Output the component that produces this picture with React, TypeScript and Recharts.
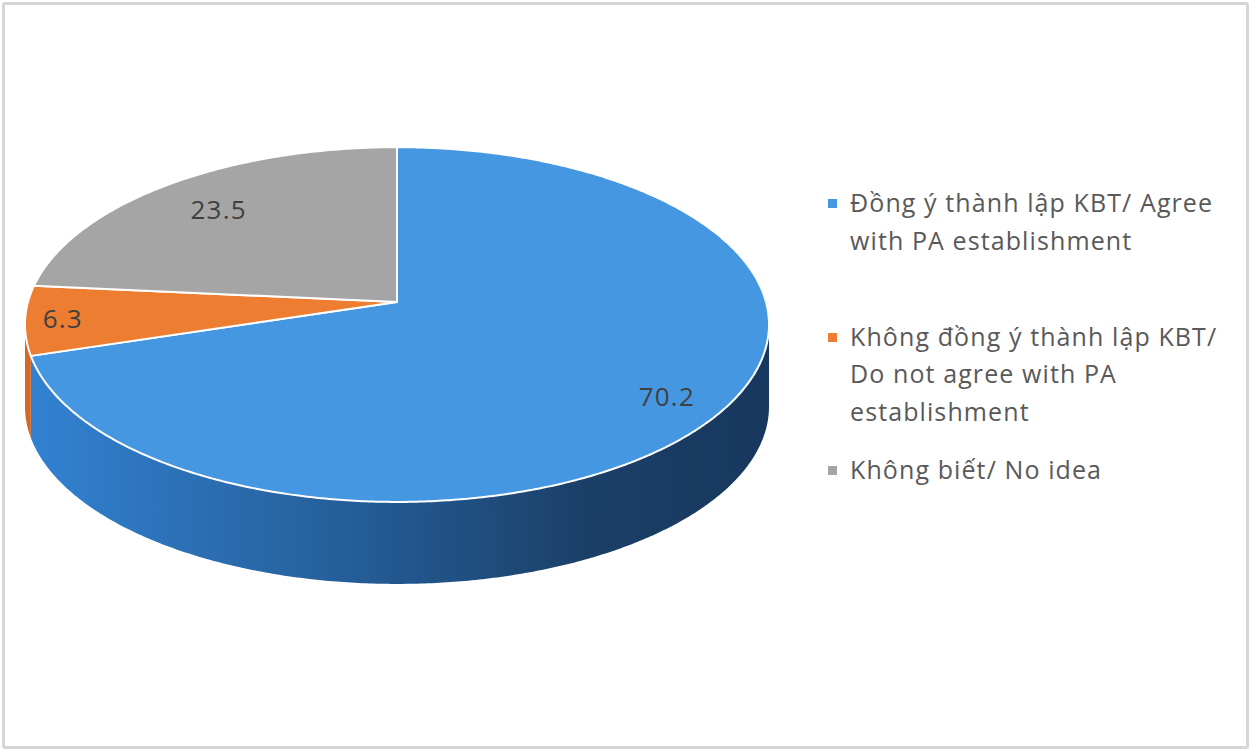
import { Cell, Legend, Pie, PieChart } from "recharts";

const categories = [
    "Đồng ý thành lập KBT/ Agree with PA establishment",
    "Không đồng ý thành lập KBT/ Do not agree with PA establishment",
    "Không biết/ No idea",
];
const values = [70.2, 6.3, 23.5];

const topColors = ["#4597E1", "#ED7D31", "#A5A5A5"];
const sideColors = ["url(#blueSide)", "#D06A26", "#8C8C8C"];
const labelRadius = [0.85, 0.9, 0.77];

const data = categories.map((name, i) => ({ name, value: values[i] }));

// fake 3D: tilted circle with a bit of perspective, then a side wall
const TILT = 0.473;
const PERSP = 0.127;
const DEPTH = 82;
const VIS = (Math.asin(PERSP) * 180) / Math.PI;
const FONT = "'Open Sans', 'Noto Sans', sans-serif";

function project(cx: number, cy: number, r: number, deg: number, f = 1): [number, number] {
    const a = (deg * Math.PI) / 180;
    const u = Math.cos(a) * f;
    const v = -Math.sin(a) * f;
    const d = 1 - PERSP * v;
    return [cx + (r * u) / d, cy + (r * TILT * v) / d];
}

function arc(cx: number, cy: number, r: number, a1: number, a2: number) {
    const n = Math.max(2, Math.ceil(Math.abs(a2 - a1) / 0.5));
    const pts: Array<[number, number]> = [];
    for (let i = 0; i <= n; i++) {
        pts.push(project(cx, cy, r, a1 + ((a2 - a1) * i) / n));
    }
    return pts;
}

const fmt = (p: [number, number]) => `${p[0].toFixed(2)},${p[1].toFixed(2)}`;

function TopShape(props: any) {
    const { cx, cy, outerRadius, startAngle, endAngle, fill } = props;
    const pts = arc(cx, cy, outerRadius, startAngle, endAngle);
    const d = `M${cx},${cy}L${pts.map(fmt).join("L")}Z`;
    return <path d={d} fill={fill} stroke="#ffffff" strokeWidth={2} strokeLinejoin="round" />;
}

function SideShape(props: any) {
    const { cx, cy, outerRadius, startAngle, endAngle, fill } = props;
    const lo = Math.min(startAngle, endAngle);
    const hi = Math.max(startAngle, endAngle);
    const paths: string[] = [];
    for (const shift of [-360, 0, 360]) {
        const a1 = Math.max(lo, -180 + VIS + shift);
        const a2 = Math.min(hi, -VIS + shift);
        if (a2 - a1 <= 0.01) continue;
        const top = arc(cx, cy, outerRadius, a1, a2);
        const bottom = top.map(([x, y]) => [x, y + DEPTH] as [number, number]).reverse();
        paths.push(`M${top.map(fmt).join("L")}L${bottom.map(fmt).join("L")}Z`);
    }
    if (!paths.length) return <g />;
    return <path d={paths.join("")} fill={fill} stroke="none" />;
}

function renderLabel(props: any) {
    const { cx, cy, outerRadius, midAngle, index, value } = props;
    const [x, y] = project(cx, cy, outerRadius, midAngle, labelRadius[index]);
    return (
        <text
            x={x}
            y={y}
            textAnchor="middle"
            dominantBaseline="central"
            fill="#404040"
            fontSize={26}
            letterSpacing={1.2}
            fontFamily={FONT}
        >
            {value}
        </text>
    );
}

function renderLegend(props: any) {
    const payload = props.payload ?? [];
    // side pie also lands in the payload, keep only the top faces, in category order
    const items = categories
        .map((name) => payload.find((p: any) => p.value === name && p.type !== "none"))
        .filter(Boolean);
    return (
        <div style={{ fontFamily: FONT }}>
            {items.map((entry: any, i: number) => (
                <div key={i} style={{ display: "flex", alignItems: "flex-start", height: 133.5 }}>
                    <div
                        style={{
                            width: 9,
                            height: 9,
                            marginTop: 15,
                            marginRight: 13,
                            background: topColors[categories.indexOf(entry.value)],
                            flex: "none",
                        }}
                    />
                    <div
                        style={{
                            width: 385,
                            fontSize: 25,
                            lineHeight: "37.5px",
                            letterSpacing: 1.1,
                            color: "#595959",
                        }}
                    >
                        {entry.value}
                    </div>
                </div>
            ))}
        </div>
    );
}

export default function App() {
    return (
        <div style={{ position: "absolute", left: 0, top: 0, width: 1251, height: 751, background: "#fff" }}>
            <div
                style={{
                    position: "absolute",
                    left: 2,
                    top: 2,
                    width: 1247,
                    height: 747,
                    boxSizing: "border-box",
                    border: "3px solid #d6d6d6",
                    borderRadius: 3,
                }}
            />
            <div style={{ position: "absolute", left: 0, top: 0 }}>
                <PieChart width={1251} height={751} margin={{ top: 0, right: 0, bottom: 0, left: 0 }}>
                    <defs>
                        <linearGradient id="blueSide" gradientUnits="userSpaceOnUse" x1={30} y1={0} x2={770} y2={0}>
                            <stop offset="0" stopColor="#3282D2" />
                            <stop offset="0.45" stopColor="#245C96" />
                            <stop offset="0.75" stopColor="#1B4068" />
                            <stop offset="1" stopColor="#17375E" />
                        </linearGradient>
                    </defs>
                    <Pie
                        data={data}
                        dataKey="value"
                        nameKey="name"
                        cx={397}
                        cy={302}
                        outerRadius={369}
                        startAngle={90}
                        endAngle={-270}
                        stroke="none"
                        legendType="none"
                        isAnimationActive={false}
                        shape={SideShape}
                        activeShape={SideShape}
                        inactiveShape={SideShape}
                    >
                        {data.map((_, i) => (
                            <Cell key={i} fill={sideColors[i]} />
                        ))}
                    </Pie>
                    <Pie
                        data={data}
                        dataKey="value"
                        nameKey="name"
                        cx={397}
                        cy={302}
                        outerRadius={369}
                        startAngle={90}
                        endAngle={-270}
                        stroke="#ffffff"
                        isAnimationActive={false}
                        shape={TopShape}
                        activeShape={TopShape}
                        inactiveShape={TopShape}
                        label={renderLabel}
                        labelLine={false}
                    >
                        {data.map((_, i) => (
                            <Cell key={i} fill={topColors[i]} />
                        ))}
                    </Pie>
                    <Legend
                        layout="vertical"
                        align="center"
                        verticalAlign="middle"
                        content={renderLegend}
                        wrapperStyle={{ left: 828, top: 184, width: 410 }}
                    />
                </PieChart>
            </div>
        </div>
    );
}
